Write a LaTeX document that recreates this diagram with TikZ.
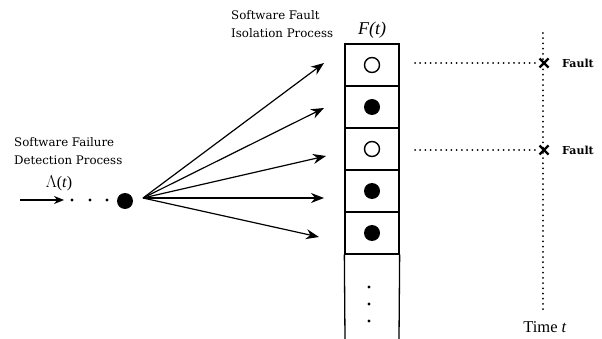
\documentclass[tikz,border=0pt]{standalone}
\usepackage{fontspec}
\setmainfont{DejaVu Serif}
\newfontfamily\timesfont{Liberation Serif}
\usetikzlibrary{arrows.meta}
\begin{document}
\begin{tikzpicture}[x=1pt,y=-1pt,
  lbl/.style={font=\fontsize{11.8}{18}\selectfont, align=left, inner sep=0pt},
  cellbox/.style={draw, line width=1.3pt, minimum width=54pt, minimum height=42pt, inner sep=0pt},
  opendot/.style={circle, draw, line width=1.4pt, minimum size=15pt, inner sep=0pt},
  fulldot/.style={circle, fill, minimum size=16pt, inner sep=0pt},
  tinydot/.style={circle, fill, minimum size=3.2pt, inner sep=0pt},
  flow/.style={line width=1.2pt, -{Stealth[length=13pt,width=10pt]}},
  dotline/.style={line width=2pt, line cap=round, dash pattern=on 0.01pt off 5.2pt},
  faultmark/.style={line width=2.2pt}]
\useasboundingbox (0,0) rectangle (602,339);

% detection side
\node[lbl, anchor=west] (detect) at (14,151) {Software Failure\\Detection Process};
\node[inner sep=0pt, font=\timesfont\fontsize{16}{16}\selectfont] (lambda) at (59,183) {$\Lambda$(\textit{t})};
\coordinate (inStart) at (20,200);
\coordinate (inEnd) at (64,200);
\draw[line width=1.2pt, -{Stealth[length=10pt,width=8pt]}] (inStart) -- (inEnd);
\node[tinydot] (d1) at (72,200) {};
\node[tinydot] (d2) at (90,200) {};
\node[tinydot] (d3) at (107,200) {};
\node[fulldot] (hub) at (125,201) {};
\coordinate (fan) at (143,198);

% isolation column
\node[lbl, anchor=west] (isolate) at (231,24) {Software Fault\\Isolation Process};
\node[inner sep=0pt, font=\timesfont\itshape\fontsize{18}{18}\selectfont] (Ft) at (372,30) {F(t)};
\node[cellbox] (c1) at (372,65) {};
\node[cellbox] (c2) at (372,107) {};
\node[cellbox] (c3) at (372,149) {};
\node[cellbox] (c4) at (372,191) {};
\node[cellbox] (c5) at (372,233) {};
\coordinate (colBL) at (345,339);
\coordinate (colBR) at (399,339);
\draw[line width=1.3pt] (c5.south west) -- (colBL);
\draw[line width=1.3pt] (c5.south east) -- (colBR);
\node[opendot] (o1) at (c1.center) {};
\node[fulldot] (f2) at (c2.center) {};
\node[opendot] (o3) at (c3.center) {};
\node[fulldot] (f4) at (c4.center) {};
\node[fulldot] (f5) at (c5.center) {};
\node[tinydot] (v1) at (369,287) {};
\node[tinydot] (v2) at (369,304) {};
\node[tinydot] (v3) at (369,321) {};

% fan of arrows
\coordinate (t1) at (324,63);
\coordinate (t2) at (324,108);
\coordinate (t3) at (326,156);
\coordinate (t4) at (324,198);
\coordinate (t5) at (319,237);
\foreach \t in {t1,t2,t3,t4,t5} \draw[flow] (fan) -- (\t);

% time axis
\coordinate (axTop) at (543,33);
\coordinate (axBot) at (543,314);
\draw[dotline] (axTop) -- (axBot);
\node[inner sep=0pt, font=\timesfont\fontsize{16.5}{16.5}\selectfont] (time) at (545,327) {Time \textit{t}};
\coordinate (x1) at (544,63);
\coordinate (x2) at (544,150);
\coordinate (h1) at (415,63);
\coordinate (h2) at (415,150);
\draw[dotline] (h1) -- ([xshift=-8pt]x1);
\draw[dotline] (h2) -- ([xshift=-8pt]x2);
\foreach \p in {x1,x2} {
  \draw[faultmark] ([shift={(-4.5,-4.5)}]\p) -- ([shift={(4.5,4.5)}]\p);
  \draw[faultmark] ([shift={(-4.5,4.5)}]\p) -- ([shift={(4.5,-4.5)}]\p);
}
\node[inner sep=0pt, anchor=west, font=\fontsize{11}{11}\selectfont\bfseries] (fault1) at (562,63) {Fault};
\node[inner sep=0pt, anchor=west, font=\fontsize{11}{11}\selectfont\bfseries] (fault2) at (562,150) {Fault};
\end{tikzpicture}
\end{document}
